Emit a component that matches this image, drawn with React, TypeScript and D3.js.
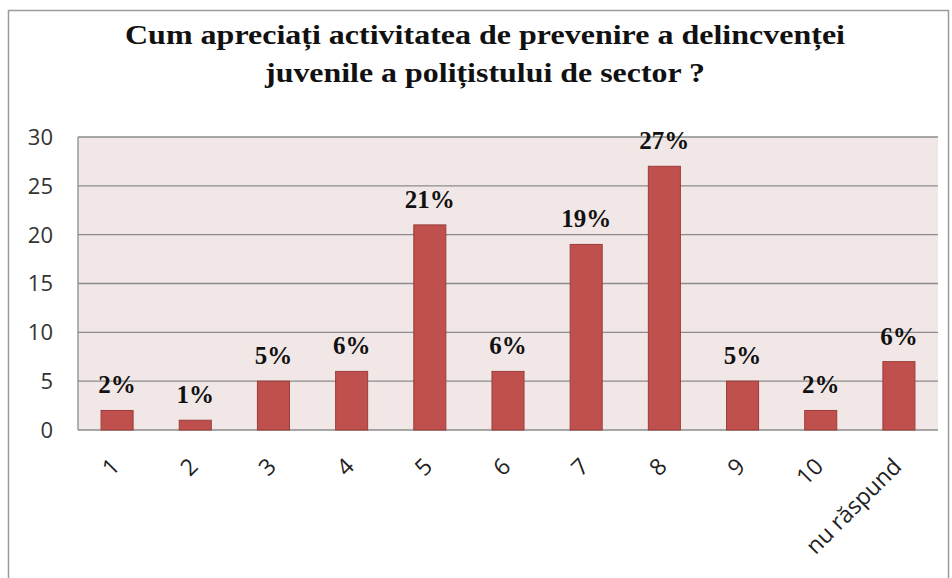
import React from "react";
import * as d3 from "d3";

const categories = ["1", "2", "3", "4", "5", "6", "7", "8", "9", "10", "nu răspund"];
const values = [2, 1, 5, 6, 21, 6, 19, 27, 5, 2, 7];
const labels = ["2%", "1%", "5%", "6%", "21%", "6%", "19%", "27%", "5%", "2%", "6%"];
const yTicks = [0, 5, 10, 15, 20, 25, 30];
const titleLines = [
  "Cum apreciați activitatea de prevenire a delincvenței",
  "juvenile a polițistului de sector ?",
];

export default function App() {
  const W = 952, H = 578;
  const left = 78, right = 938, top = 137, bottom = 430;
  const x = d3.scaleBand<string>().domain(categories).range([left, right]).paddingInner(0.59).paddingOuter(0.295);
  const y = d3.scaleLinear().domain([0, 30]).range([bottom, top]);
  const band = d3.scaleBand<string>().domain(categories).range([left, right]);
  const sans = "'Open Sans', 'DejaVu Sans', sans-serif";
  const serif = "'Liberation Serif', 'Times New Roman', serif";

  return (
    <svg width={W} height={H} style={{ position: "absolute", left: 0, top: 0, background: "#fff" }}>
      <rect x={8.5} y={10.5} width={940} height={580} fill="#fff" stroke="#9a9a9a" strokeWidth={1.5} />
      <text x={485} y={44} textAnchor="middle" fontFamily={serif} fontWeight="bold" fontSize={28} textLength={720} lengthAdjust="spacingAndGlyphs" fill="#111">{titleLines[0]}</text>
      <text x={485} y={82} textAnchor="middle" fontFamily={serif} fontWeight="bold" fontSize={28} textLength={440} lengthAdjust="spacingAndGlyphs" fill="#111">{titleLines[1]}</text>

      <rect x={left} y={top} width={right - left} height={bottom - top} fill="#F2E7E7" />
      {yTicks.map((t) => (
        <g key={t}>
          <line x1={left} x2={right} y1={y(t)} y2={y(t)} stroke="#8c8c8c" strokeWidth={1.3} />
          <text x={53} y={y(t)} dy="0.36em" textAnchor="end" fontFamily={sans} fontSize={22} fill="#333">{t}</text>
        </g>
      ))}
      <line x1={left} x2={left} y1={top} y2={bottom} stroke="#8c8c8c" strokeWidth={1.3} />

      {categories.map((c, i) => {
        const bx = x(c)!;
        const bw = x.bandwidth();
        const cx = band(c)! + band.bandwidth() / 2;
        return (
          <g key={c}>
            <rect x={bx} y={y(values[i])} width={bw} height={bottom - y(values[i])} fill="#C0504D" stroke="#9b3d3a" strokeWidth={1} />
            <text x={bx + bw / 2} y={y(values[i]) - 17} textAnchor="middle" fontFamily={serif} fontWeight="bold" fontSize={25} fill="#111">{labels[i]}</text>
            <text transform={`translate(${cx + 4},${468}) rotate(-45)`} textAnchor="end" fontFamily={sans} fontSize={23} fill="#222">{c}</text>
          </g>
        );
      })}
    </svg>
  );
}
